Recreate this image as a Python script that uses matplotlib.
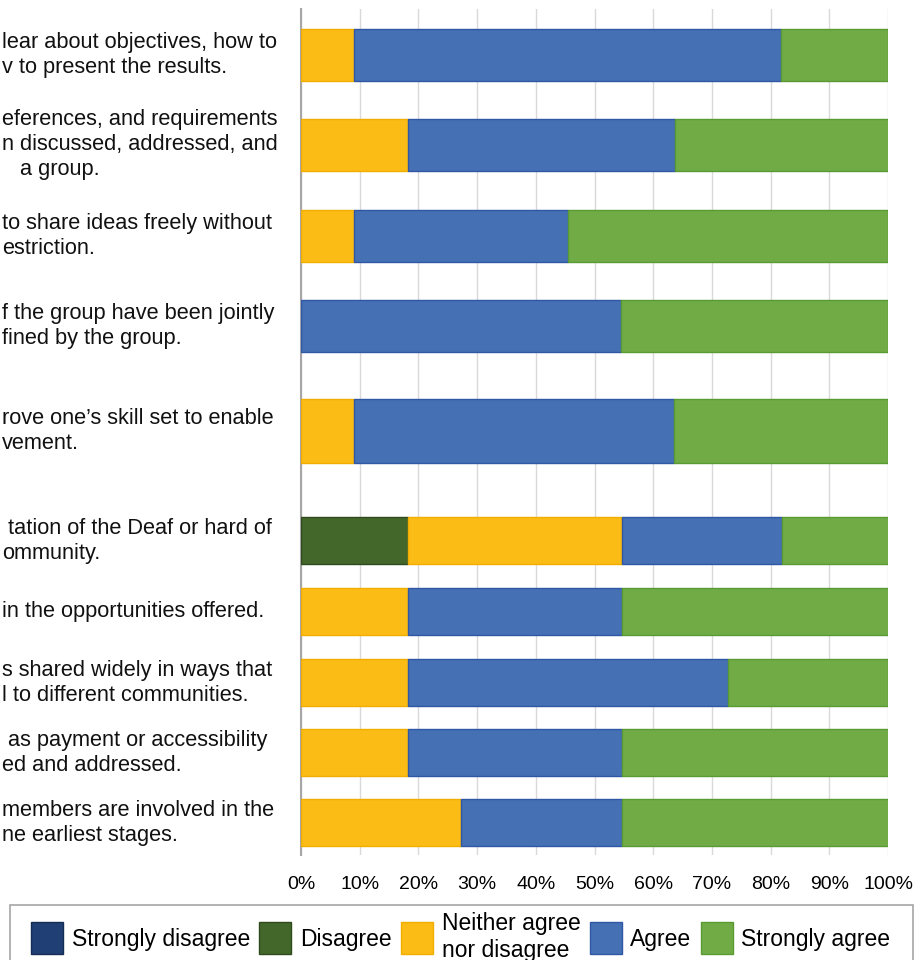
import matplotlib.pyplot as plt
import matplotlib.transforms as mtransforms
from matplotlib.patches import Rectangle
import numpy as np

plt.rcParams['font.family'] = ['Liberation Sans', 'DejaVu Sans']

# Etiquetas visibles (el original esta recortado por la izquierda)
labels = [
    "lear about objectives, how to\nv to present the results.",
    "eferences, and requirements\nn discussed, addressed, and\n   a group.",
    "to share ideas freely without\nestriction.",
    "f the group have been jointly\nfined by the group.",
    "rove one\u2019s skill set to enable\nvement.",
    " tation of the Deaf or hard of\nommunity.",
    "in the opportunities offered.",
    "s shared widely in ways that\nl to different communities.",
    " as payment or accessibility\ned and addressed.",
    "members are involved in the\nne earliest stages.",
]

series_names = ["Strongly disagree", "Disagree", "Neither agree\nnor disagree", "Agree", "Strongly agree"]

# Porcentajes por fila
strongly_disagree = [0, 0, 0, 0, 0, 0, 0, 0, 0, 0]
disagree = [0, 0, 0, 0, 0, 18.2, 0, 0, 0, 0]
neither = [9.1, 18.2, 9.1, 0, 9.1, 36.4, 18.2, 18.2, 18.2, 27.3]
agree = [72.7, 45.5, 36.4, 54.5, 54.5, 27.3, 36.4, 54.5, 36.4, 27.3]
strongly_agree = [18.2, 36.4, 54.5, 45.5, 36.4, 18.2, 45.5, 27.3, 45.5, 45.5]

colors = ["#203F74", "#43662A", "#FBBC16", "#4570B4", "#70AB46"]
edges = ["#152C55", "#2F4A1C", "#F2AE00", "#2F57A6", "#5A9A32"]

# posiciones verticales de las barras (el grafico original no es uniforme)
y_pos = [55, 145, 236, 326, 431, 541, 612, 683, 753, 823]
bar_h = [52, 52, 52, 52, 64, 47, 47, 47, 47, 47]

W, H = 922, 960
fig = plt.figure(figsize=(W / 100, H / 100), dpi=100)
ax = fig.add_axes([301 / W, 1 - 855 / H, (888 - 301) / W, (855 - 9) / H])

data = [strongly_disagree, disagree, neither, agree, strongly_agree]
left = np.zeros(len(labels))
for name, vals, c, ec in zip(series_names, data, colors, edges):
    vals = np.array(vals)
    ax.barh(y_pos, vals, height=bar_h, left=left, color=c, edgecolor=ec,
            linewidth=1, label=name, zorder=3)
    left += vals

ax.set_xlim(0, 100)
ax.set_ylim(855, 9)
ax.set_xticks(np.arange(0, 101, 10))
ax.set_xticklabels([f"{v}%" for v in range(0, 101, 10)], fontsize=14)
ax.tick_params(axis='x', length=0, pad=15)
ax.set_yticks([])
ax.grid(axis='x', color='#D9D9D9', linewidth=1, zorder=0)
ax.set_axisbelow(True)
for s in ['top', 'right', 'bottom']:
    ax.spines[s].set_visible(False)
ax.spines['left'].set_color('#A6A6A6')
ax.spines['left'].set_linewidth(1.5)

# textos de la izquierda
trans = mtransforms.blended_transform_factory(fig.transFigure, ax.transData)
for lab, y in zip(labels, y_pos):
    ax.text(2 / W, y, lab, transform=trans, ha='left', va='center',
            fontsize=15.7, color='#111111', linespacing=1.25, clip_on=False)

# leyenda con marco dibujado aparte
fig.patches.append(Rectangle((10 / W, -0.05), 903 / W, (1 - 905 / H) + 0.05,
                             transform=fig.transFigure, fill=False,
                             edgecolor='#A6A6A6', linewidth=1.2))
leg = fig.legend(loc='upper left', bbox_to_anchor=(31 / W, 1 - 912 / H), ncol=5,
                 fontsize=16.5, handlelength=1.4, handleheight=1.77,
                 handletextpad=0.38, columnspacing=0.4, borderpad=0,
                 borderaxespad=0, frameon=False)

plt.savefig('out.png', dpi=100)
